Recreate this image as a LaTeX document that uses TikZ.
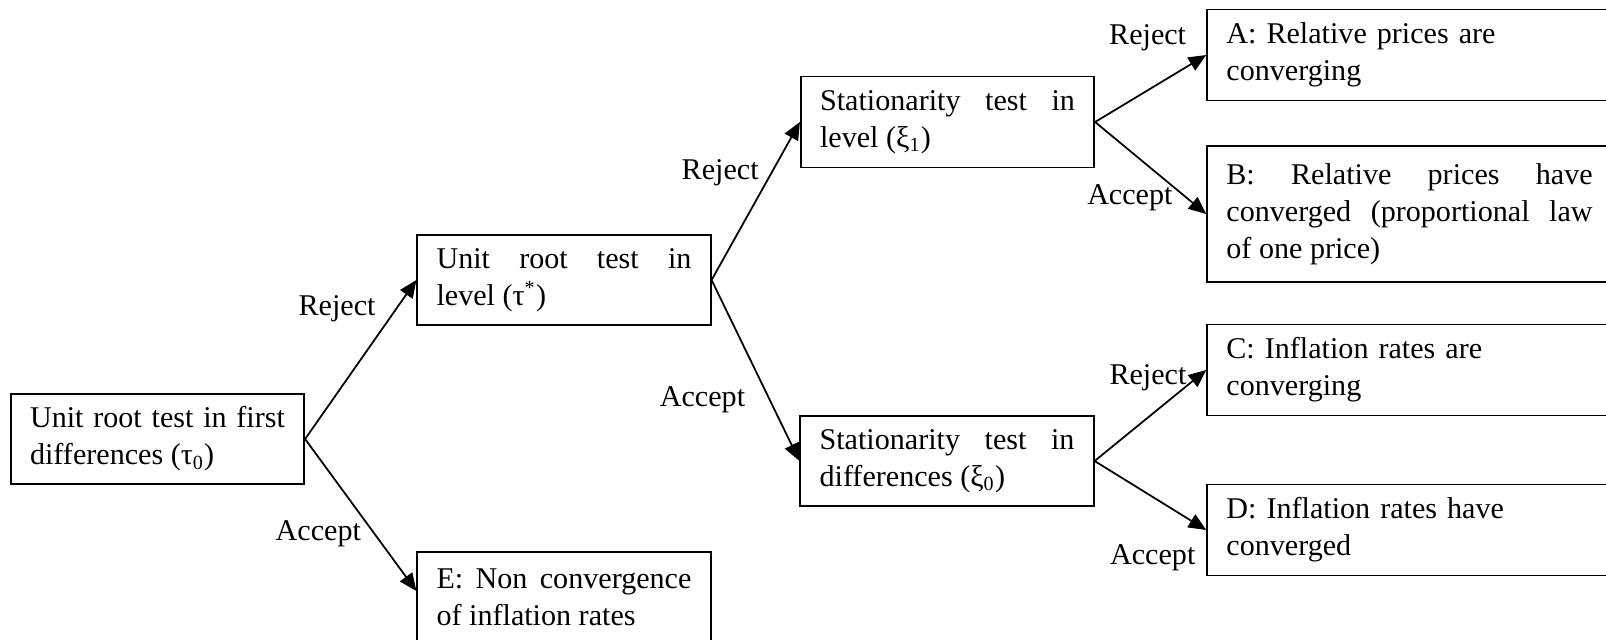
\documentclass[tikz,border=0pt]{standalone}
\usepackage{fontspec}
\setmainfont{Liberation Serif}
\usetikzlibrary{arrows.meta}
\hyphenpenalty=10000
\exhyphenpenalty=10000
\tikzset{
  box/.style={draw, line width=0.7pt, inner xsep=0.27cm, inner ysep=0pt,
    align=justify, text width=3.57cm, minimum height=1.26cm,
    font=\fontsize{12}{14.7}\selectfont},
  outcome/.style={box, align=left, text width=5.13cm, minimum height=1.274cm},
  branch/.style={line width=0.7pt, -{Triangle[length=7pt,width=6pt]}},
  lbl/.style={inner sep=0pt, font=\fontsize{12}{14.7}\selectfont}
}
\begin{document}
\begin{tikzpicture}[x=0.014cm,y=-0.014cm]
\useasboundingbox (0,0) rectangle (1606,639);
\node[box] (b1) at (157.5,439) {Unit root test in first\linebreak differences (τ\textsubscript{0})};
\node[box] (b2) at (564,280) {Unit root test in\linebreak level (τ\textsuperscript{*})};
\node[box, minimum height=1.274cm] (b3) at (947.5,122) {Stationarity test in\linebreak level (ξ\textsubscript{1})};
\node[box] (b4) at (947,461) {Stationarity test in\linebreak differences (ξ\textsubscript{0})};
\node[box] (E) at (564,597) {E: Non convergence\linebreak of inflation rates};
\node[outcome] (A) at (1409.5,55) {A: Relative prices are\\ converging};
\node[outcome, align=justify, minimum height=1.904cm] (B) at (1409.5,214)
  {B: Relative prices have\linebreak converged (proportional law\linebreak of one price)};
\node[outcome] (C) at (1409.5,370) {C: Inflation rates are\\ converging};
\node[outcome] (D) at (1409.5,530) {D: Inflation rates have\\ converged};

\draw[branch] (b1.east) -- node[lbl, pos=.82, anchor=east, xshift=-.28cm] (r1) {Reject} (b2.west);
\draw[branch] (b1.east) -- node[lbl, pos=.625, anchor=east, xshift=-.18cm] (a1) {Accept} ([yshift=.084cm]E.west);
\draw[branch] (b2.east) -- node[lbl, pos=.68, anchor=east, xshift=-.17cm] (r2) {Reject} (b3.west);
\draw[branch] (b2.east) -- node[lbl, pos=.66, anchor=east, xshift=-.33cm] (a2) {Accept} (b4.west);
\draw[branch] (b3.east) -- node[lbl, pos=1, anchor=east, xshift=-.27cm, yshift=.24cm] (r3) {Reject} (A.west);
\draw[branch] (b3.east) -- node[lbl, pos=.82, anchor=east, xshift=-.18cm] (a3) {Accept} (B.west);
\draw[branch] (b4.east) -- node[lbl, pos=.92, anchor=east, xshift=-.14cm] (r4) {Reject} (C.west);
\draw[branch] (b4.east) -- node[lbl, pos=1, anchor=east, xshift=-.14cm, yshift=-.39cm] (a4) {Accept} (D.west);
\end{tikzpicture}
\end{document}
